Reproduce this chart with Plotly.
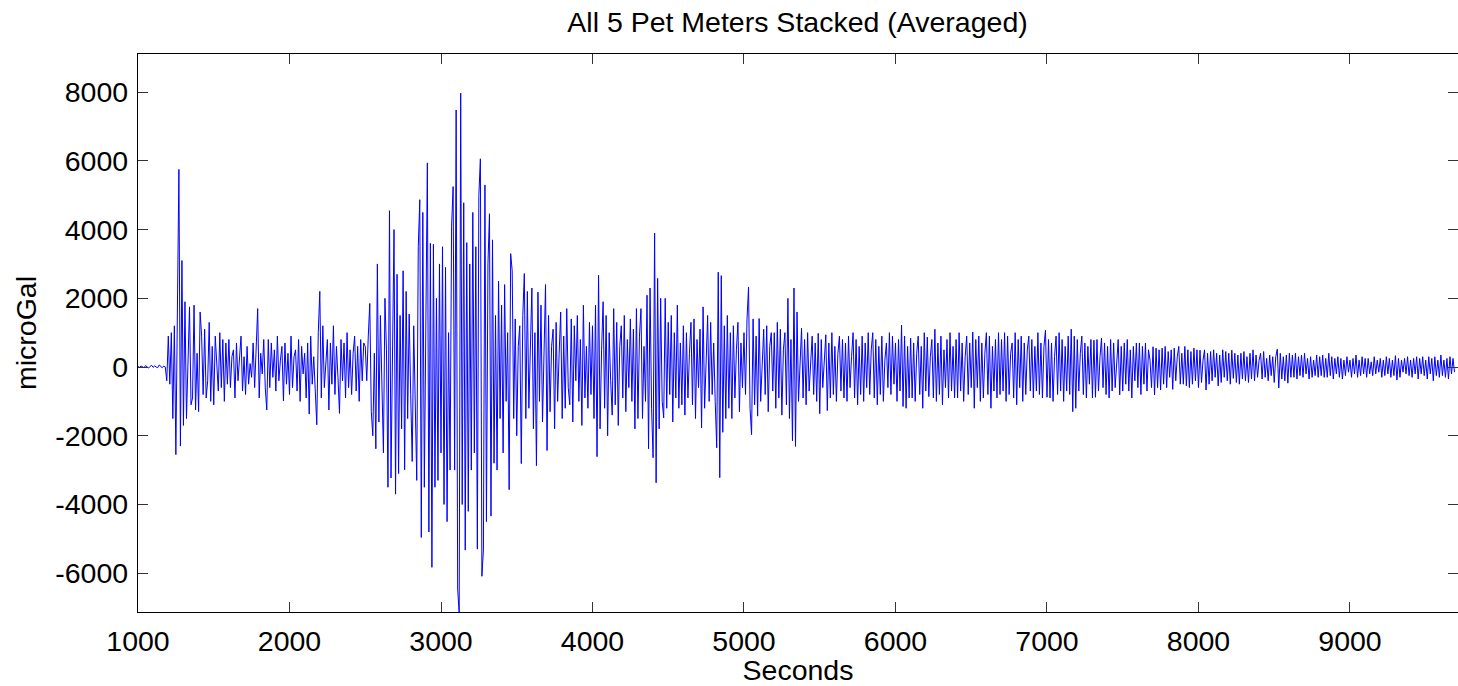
import plotly.graph_objects as go

# Sampling of the averaged record
t_start = 1000
dt = 10

# microGal values, 30 samples (300 s) per row
values = [
    20, -10, 30, 10, -20, 40, 0, -30, 20, 50, -10, 30, 0, -20, 60, 10, -20, 30, 0, -400, 900, -500, 1000, -1500, 1200, -2550, 2800, 5750, -2300, 3100,
    -1700, 1900, -1500, 600, 1750, -1100, -900, 1800, -1250, 400, -1300, 1600, 900, -800, 1100, -900, -400, 1300, -1000, 600, -1100, 900, 200, -700, 1000, -600, 800, -1000, 700, -500,
    800, -600, 300, 500, -900, 700, -400, 200, 900, -700, 300, -800, 600, -500, 100, -300, 700, -600, 400, 1700, -900, 400, -200, 800, -600, -1250, 800, -600, 700, -300,
    500, -700, 900, -400, 200, 600, -990, 700, -500, 400, -800, 900, -600, 300, 500, -700, 800, -1000, 600, -200, 400, -900, 700, -1370, 900, -500, 300, -800, -1680, 1000,
    2200, -900, 1200, -600, 300, 800, -1250, 700, -500, 1200, -800, 600, -300, -1350, 800, -400, 700, -900, 1000, -600, 500, -800, 400, 900, -700, 600, -1000, 800, -400, 700,
    600, -400, 900, 1850, -1300, -2000, 400, -2380, 3000, -1600, 1500, -500, -2500, 2000, 500, -3500, 4550, -3230, 1000, 4000, -3700, 2700, -3100, 1500, -1800, 2800, -2990, 2200, -1500, 1540,
    -800, -2750, 1200, -1700, -3300, 3500, 4870, -4960, 4500, -3500, 1500, 5940, -4800, 3600, -5830, 3570, -3500, 2000, -3300, 3000, -2500, 3500, -4000, 2900, -4500, 1000, -3000, 4100, 5250, -3000,
    7480, -6460, -7160, 7970, -4000, 4780, -5330, 3620, -4200, 3000, -3000, 4500, -2500, 3500, -5300, 5000, 6060, -6090, -5330, 5300, -4500, 3000, 4460, -4340, 3700, -2800, 1500, -3000, 2500, -1500,
    1800, -2500, 2400, -1000, 1000, -3570, 3300, 2800, -1500, 1400, -2000, 600, 1200, -2810, 1500, 2720, -1500, 2200, -1200, 800, 2300, -1800, 1000, -2870, 2180, -1000, 1800, -1600, 500, 2400,
    -2430, 1500, -1300, 600, 1100, -1800, 1300, -1000, 400, 1600, -1500, 900, -1200, 1700, -600, -1100, 1400, -1600, 1200, -400, 1500, -1000, 800, -1700, 1800, -900, 600, -1200, 1300, -800,
    1200, -1500, 1800, -2610, 2670, -1800, 500, 1900, -1200, 1500, -2000, 1000, -400, -1400, 1700, -1100, 1300, -1700, 600, 1200, -900, 1500, -1300, 800, -600, 1400, -1000, 1100, -1800, 1700,
    -1500, 900, 1700, -1500, 600, -1000, 2090, -2380, 2300, -1200, -2640, 3900, -3370, 2580, -1800, 2000, -1000, -1480, 2000, -1200, 1300, -800, 1500, -1600, 1000, -900, 1800, -1200, 700, -1100,
    1200, -1400, 1000, -900, 400, 1300, -1100, 1400, -1500, 800, -600, 1100, -1770, 1750, -1200, 600, 1500, -1000, 1300, -800, 700, -1000, -2350, 2760, -3220, 2660, -1900, 1200, -1500, 1500,
    -1200, 1000, -1500, 1200, -900, 500, 1300, -1300, 700, -600, 1000, -800, 1400, 2330, -1200, -1970, 1400, -1100, 900, -1430, 1410, -1000, 300, 1100, -800, 1200, -1300, 600, 1000, -700,
    1000, -1200, 1300, -900, 1100, -1400, 500, 1000, -1100, 2000, -1500, 800, -2150, 2300, -2310, 1600, -1000, 400, 1130, -900, 800, -1100, 1000, -700, 300, 900, -800, 700, -1000, 980,
    -1360, 800, -600, 200, 940, -1270, 700, -900, 1000, -800, 600, -1000, 400, 900, -700, 800, -900, 700, -1000, 900, -600, 300, 1000, -900, 800, -1100, 600, -800, 900, -1000,
    700, -600, 1000, -800, 500, 1000, -900, 800, -1100, 600, -800, 900, -1000, 200, 700, -600, 1000, -800, 900, -500, 700, -1000, 800, -700, 1220, -1150, 900, -1200, 600, -900,
    840, -900, 700, -1000, 400, 900, -800, 600, -1200, 1000, -700, 870, -860, 300, 800, -900, 1100, -1000, 700, -800, 900, -1100, 500, -600, 800, -900, 1000, -700, 600, -900,
    800, -900, 1000, -700, 700, -1000, 300, 900, -800, 700, -600, 1020, -1200, 800, -600, 900, -1000, 700, -900, 400, 1000, -800, 900, -1200, 600, -700, 800, -900, 1000, -800,
    800, -700, 1000, -1000, 900, -800, 400, 700, -900, 1000, -1100, 800, -600, 900, -1000, 700, -800, 500, 900, -700, 800, -900, 600, -700, 1000, -800, 700, -900, 600, 1070,
    -880, 800, -900, 700, -1000, 300, 900, -800, 1000, -700, 800, -1000, 600, -700, 900, -800, 1100, -1300, 900, -1200, 800, -700, 400, 900, -800, 700, -900, 600, -500, 800,
    -900, 780, -880, 800, -700, 300, 840, -600, 700, -800, 600, -900, 800, -700, 700, -600, 200, 800, -810, 600, -700, 700, -500, 800, -700, 500, -900, 600, -400, 700,
    -600, 700, -800, 600, -500, 700, -700, 500, 200, -600, 590, -810, 550, -600, 500, -670, 550, -500, 600, -600, 450, -300, 500, -650, 550, -400, 300, 600, -500, 400,
    -500, 600, -550, 500, -600, 450, -500, 550, -400, 500, -600, 490, -450, 200, 500, -670, 400, -500, 450, -400, 500, -300, 400, -550, 350, -450, 500, -300, 450, -400,
    400, -500, 490, -330, 400, -450, 350, -500, 400, -350, 450, -400, 300, -450, 400, -350, 500, -400, 350, -300, 200, 400, -350, 450, -300, 250, -400, 350, -250, 300,
    -450, 300, 520, -610, 400, -350, 300, -400, 350, -470, 400, -300, 350, -300, 400, -350, 300, -250, 350, -300, 400, -200, 250, -350, 300, -300, 200, -250, 350, -300,
    300, -250, 350, -300, 250, -300, 400, -250, 300, -350, 250, -200, 300, -300, 250, -350, 200, -250, 300, -150, 200, -300, 250, -200, 350, -300, 200, -250, 300, -200,
    250, -300, 250, -200, 150, -250, 300, -200, 200, -150, 250, -300, 200, -250, 300, -200, 250, -300, 200, -250, 330, -380, 250, -300, 200, -150, 250, -200, 300, -250,
    200, -300, 250, -200, 300, -350, 250, -200, 300, -250, 200, -350, 300, -200, 250, -400, 300, -250, 200, -300, 350, -250, 200, -300, 250, -350, 300, -200, 250, -150,
]
seconds = [t_start + dt * i for i in range(len(values))]

x_ticks = [1000, 2000, 3000, 4000, 5000, 6000, 7000, 8000, 9000]
y_ticks = [-6000, -4000, -2000, 0, 2000, 4000, 6000, 8000]

FONT = "Liberation Sans, Arial, sans-serif"
FS = 28.5

fig = go.Figure()
fig.add_trace(go.Scatter(
    x=seconds, y=values, mode="lines",
    line=dict(color="#0000ff", width=1),
    showlegend=False, hoverinfo="skip",
))

axis_common = dict(
    showline=True, linecolor="black", linewidth=1.3,
    mirror="ticks", ticks="inside", ticklen=10, tickcolor="#333333", tickwidth=1,
    showgrid=False, zeroline=False,
    tickfont=dict(family=FONT, size=FS, color="black"),
)

fig.update_layout(
    width=1458, height=686,
    margin=dict(l=138, r=0, t=54, b=74),
    paper_bgcolor="white", plot_bgcolor="white",
    font=dict(family=FONT, size=FS, color="black"),
    title=dict(text="All 5 Pet Meters Stacked (Averaged)", x=0.547, xanchor="center",
               y=1 - 22 / 686, yanchor="middle", yref="container",
               font=dict(family=FONT, size=FS, color="black")),
    xaxis=dict(range=[1000, 9713], tickvals=x_ticks, ticktext=[str(v) for v in x_ticks],
               title=dict(text="Seconds", standoff=0, font=dict(family=FONT, size=FS)),
               ticklabelstandoff=4, **axis_common),
    yaxis=dict(range=[-7130, 9110], tickvals=y_ticks, ticktext=[str(v) for v in y_ticks],
               title=dict(text="microGal", standoff=10, font=dict(family=FONT, size=FS)),
               ticklabelstandoff=3, **axis_common),
)

fig.write_html("out.html")
